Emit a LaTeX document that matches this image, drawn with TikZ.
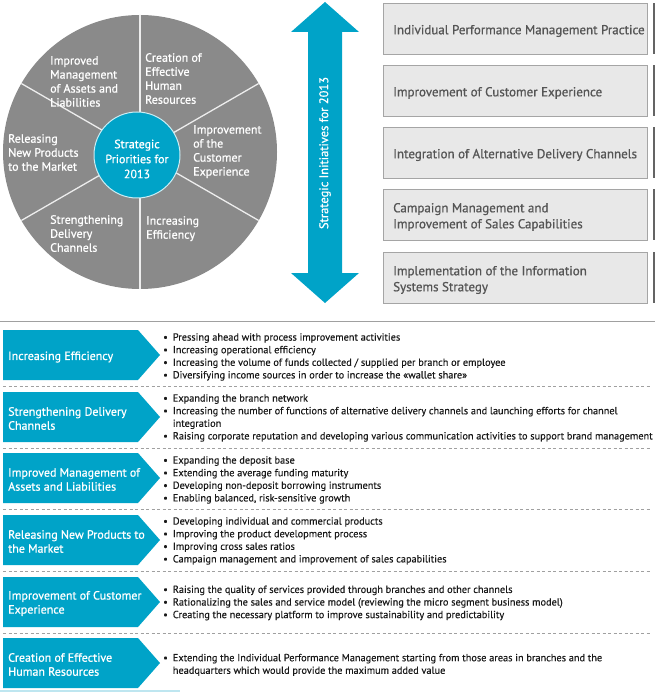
\documentclass[tikz,border=0pt]{standalone}
\usepackage{fontspec}
\setmainfont{PT Sans}[FakeBold=0.35]
\newfontfamily\medfont{PT Sans}[FakeBold=0.8]
\definecolor{bblue}{RGB}{0,163,200}
\definecolor{piegray}{RGB}{138,138,138}
\definecolor{boxfill}{RGB}{232,232,232}
\definecolor{boxline}{RGB}{165,165,165}
\definecolor{boxtext}{RGB}{85,85,85}
\definecolor{boxedge}{RGB}{100,100,100}
\definecolor{bultext}{RGB}{25,25,25}
\definecolor{rulegray}{RGB}{160,160,160}
\definecolor{lightblue}{RGB}{190,230,240}
\begin{document}
\begin{tikzpicture}[x=1pt,y=-1pt,
  pietext/.style={text=white,font=\medfont\fontsize{12}{14}\selectfont,align=left,inner sep=0pt,anchor=north west},
  ctrtext/.style={text=white,font=\medfont\fontsize{12}{15}\selectfont,align=center,inner sep=0pt},
  initbox/.style={fill=boxfill,draw=boxline,line width=1.2pt,minimum width=264pt,minimum height=51pt,anchor=north west,inner sep=0pt},
  inittext/.style={text=boxtext,font=\medfont\fontsize{13}{16}\selectfont,align=left,inner sep=0pt,anchor=west},
  pent/.style={fill=bblue},
  penttext/.style={text=white,font=\medfont\fontsize{12}{14}\selectfont,align=left,inner sep=0pt,anchor=west},
  bultxt/.style={text=bultext,font=\fontsize{10.3}{12.6}\selectfont,inner sep=0pt,anchor=west},
  dashrule/.style={draw=rulegray,line width=0.8pt,dash pattern=on 3pt off 2.5pt}
]
\useasboundingbox (0,0) rectangle (655,692);
% ---------- pie ----------
\coordinate (c) at (140,152);
\fill[piegray] (c) circle (137);
\foreach \a in {30,90,150,210,270,330}
  \draw[white!85!piegray,line width=1.3pt] (c) -- ++(\a:137);
\node[circle,fill=bblue,draw=white!80!bblue,line width=1pt,minimum size=86pt,inner sep=0pt] (hub) at (137,155) {};
\node[ctrtext] (hubtxt) at (137,159) {Strategic\\Priorities for\\2013};
\node[pietext] (p1) at (50,56) {Improved\\Management\\of Assets and\\Liabilities};
\node[pietext] (p2) at (145,53) {Creation of\\Effective\\Human\\Resources};
\node[pietext] (p3) at (193,125) {Improvement\\of the\\Customer\\Experience};
\node[pietext] (p4) at (146,216) {Increasing\\Efficiency};
\node[pietext] (p5) at (50,215) {Strengthening\\Delivery\\Channels};
\node[pietext] (p6) at (8,134) {Releasing\\New Products\\to the Market};
% ---------- double arrow ----------
\fill[bblue] (325,2) -- (359,32) -- (342,32) -- (342,273) -- (359,273) -- (325,303)
  -- (291,273) -- (308,273) -- (308,32) -- (291,32) -- cycle;
\node[text=white,font=\medfont\fontsize{12.5}{14}\selectfont,rotate=90,inner sep=0pt] (arrtxt) at (325,153) {Strategic Initiatives for 2013};
% ---------- initiative boxes ----------
\foreach \y/\t [count=\i] in {3/{Individual Performance Management Practice},
  65/{Improvement of Customer Experience},
  127/{Integration of Alternative Delivery Channels},
  189/{Campaign Management and\\Improvement of Sales Capabilities},
  252/{Implementation of the Information\\Systems Strategy}}{
  \node[initbox] (b\i) at (383,\y) {};
  \fill[boxedge] (652.5,\y) rectangle (655,\y+51);
  \node[inittext] (bt\i) at (393,\y+28) {\t};
}
% ---------- table ----------
\draw[rulegray,line width=1pt] (0,321) -- (655,321);
\foreach \y [count=\i] in {330,392,453,515,577,638}{
  \fill[pent] (3,\y) -- (138,\y) -- (160,\y+25) -- (138,\y+50) -- (3,\y+50) -- cycle;
}
\foreach \y in {386,448,509,571,633}
  \draw[dashrule] (3,\y) -- (651,\y);
\node[penttext] (r1) at (8,357) {Increasing Efficiency};
\node[penttext] (r2) at (8,418.5) {Strengthening Delivery\\Channels};
\node[penttext] (r3) at (8,479.5) {Improved Management of\\Assets and Liabilities};
\node[penttext] (r4) at (8,541.5) {Releasing New Products to\\the Market};
\node[penttext] (r5) at (8,603.5) {Improvement of Customer\\Experience};
\node[penttext] (r6) at (8,664.5) {Creation of Effective\\Human Resources};
\node[bultxt] (l1) at (163,357) {\begin{tabular}{@{}l@{\hspace{5pt}}l@{}}
\textbullet & Pressing ahead with process improvement activities\\
\textbullet & Increasing operational efficiency\\
\textbullet & Increasing the volume of funds collected / supplied per branch or employee\\
\textbullet & Diversifying income sources in order to increase the «wallet share»
\end{tabular}};
\node[bultxt] (l2) at (163,418) {\begin{tabular}{@{}l@{\hspace{5pt}}l@{}}
\textbullet & Expanding the branch network\\
\textbullet & Increasing the number of functions of alternative delivery channels and launching efforts for channel\\
 & integration\\
\textbullet & Raising corporate reputation and developing various communication activities to support brand management
\end{tabular}};
\node[bultxt] (l3) at (163,480) {\begin{tabular}{@{}l@{\hspace{5pt}}l@{}}
\textbullet & Expanding the deposit base\\
\textbullet & Extending the average funding maturity\\
\textbullet & Developing non-deposit borrowing instruments\\
\textbullet & Enabling balanced, risk-sensitive growth
\end{tabular}};
\node[bultxt] (l4) at (163,541) {\begin{tabular}{@{}l@{\hspace{5pt}}l@{}}
\textbullet & Developing individual and commercial products\\
\textbullet & Improving the product development process\\
\textbullet & Improving cross sales ratios\\
\textbullet & Campaign management and improvement of sales capabilities
\end{tabular}};
\node[bultxt] (l5) at (163,603) {\begin{tabular}{@{}l@{\hspace{5pt}}l@{}}
\textbullet & Raising the quality of services provided through branches and other channels\\
\textbullet & Rationalizing the sales and service model (reviewing the micro segment business model)\\
\textbullet & Creating the necessary platform to improve sustainability and predictability
\end{tabular}};
\node[bultxt] (l6) at (163,665) {\begin{tabular}{@{}l@{\hspace{5pt}}l@{}}
\textbullet & Extending the Individual Performance Management starting from those areas in branches and the\\
 & headquarters which would provide the maximum added value
\end{tabular}};
\fill[lightblue] (0,690) rectangle (180,692);
\end{tikzpicture}
\end{document}
